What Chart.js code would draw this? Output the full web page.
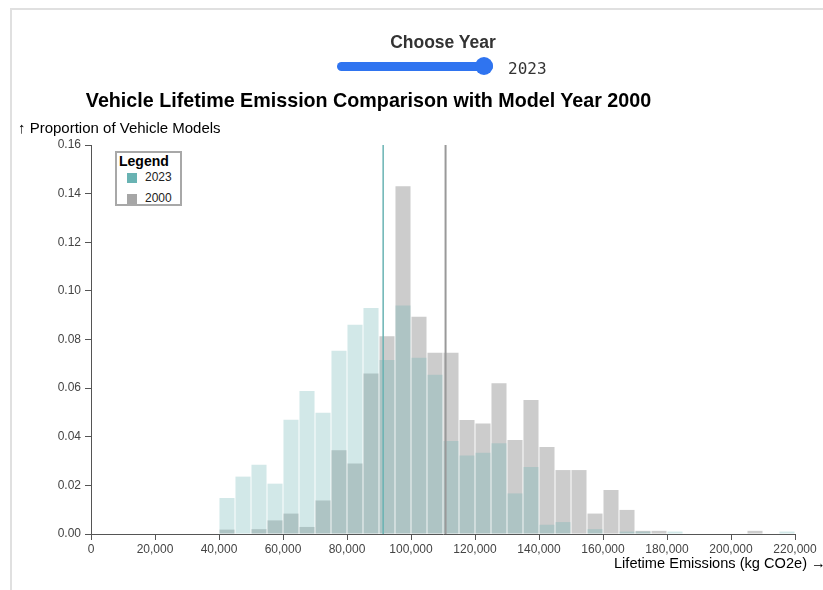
<!DOCTYPE html>
<html>
<head>
<meta charset="utf-8">
<script src="https://cdn.jsdelivr.net/npm/chart.js@4"></script>
<style>
  html, body { margin: 0; padding: 0; background: #fff; }
  body { width: 823px; height: 590px; position: relative; overflow: hidden; font-family: "Liberation Sans", Arial, sans-serif; }
  #frame { position: absolute; left: 10px; top: 8px; width: 840px; height: 600px; border-left: 2px solid #e0e0e0; border-top: 2px solid #e0e0e0; }
  #chooseLbl { position: absolute; left: 343px; width: 200px; top: 32px; text-align: center; font-weight: bold; font-size: 17.5px; color: #333; }
  #yearSlider { -webkit-appearance: none; appearance: none; position: absolute; left: 337px; top: 58px; width: 156px; height: 16px; background: transparent; margin: 0; }
  #yearSlider::-webkit-slider-runnable-track { height: 9px; border-radius: 5px; background: #2f74f0; }
  #yearSlider::-webkit-slider-thumb { -webkit-appearance: none; width: 18px; height: 18px; border-radius: 50%; background: #2f74f0; margin-top: -4.5px; border: none; }
  #yearVal { position: absolute; left: 508px; top: 59px; font-family: "DejaVu Sans Mono", monospace; font-size: 16px; color: #333; }
  #mainTitle { position: absolute; left: 0; width: 737px; top: 89px; text-align: center; font-weight: bold; font-size: 19.7px; color: #000; }
  #yTitle { position: absolute; left: 18px; top: 119px; font-size: 15px; color: #000; }
  #xTitle { position: absolute; left: 614px; top: 555px; font-size: 14.6px; color: #000; white-space: nowrap; }
  #legendBox { position: absolute; left: 115px; top: 151px; width: 63px; height: 51px; border: 2px solid #a8a8a8; background: #fff; }
  #legendBox .ttl { position: absolute; left: 2px; top: 0px; font-weight: bold; font-size: 14px; }
  #legendBox .sw { position: absolute; left: 10px; width: 10px; height: 10px; }
  #legendBox .lb { position: absolute; left: 28px; font-size: 12px; color: #222; }
  #wrap { position: absolute; left: 0; top: 0; width: 823px; height: 590px; }
</style>
</head>
<body>
<div id="frame"></div>
<div id="wrap"><canvas id="chart"></canvas></div>
<div id="chooseLbl">Choose Year</div>
<input id="yearSlider" type="range" min="2000" max="2023" value="2023">
<div id="yearVal">2023</div>
<div id="mainTitle">Vehicle Lifetime Emission Comparison with Model Year 2000</div>
<div id="yTitle">↑ Proportion of Vehicle Models</div>
<div id="xTitle">Lifetime Emissions (kg CO2e) →</div>
<div id="legendBox">
  <div class="ttl">Legend</div>
  <div class="sw" style="top:20px;background:#69b3b3"></div><div class="lb" style="top:17px">2023</div>
  <div class="sw" style="top:41px;background:#a6a6a6"></div><div class="lb" style="top:38px">2000</div>
</div>
<script>
// histogram bins, 5000 kg wide, start values
var binStarts = [0,5000,10000,15000,20000,25000,30000,35000,40000,45000,50000,55000,60000,65000,70000,75000,80000,85000,90000,95000,
  100000,105000,110000,115000,120000,125000,130000,135000,140000,145000,150000,155000,160000,165000,170000,175000,180000,185000,190000,195000,
  200000,205000,210000,215000];
var binWidth = 5000;

var share2023 = [0,0,0,0,0,0,0,0,0.0148,0.0236,0.0285,0.0207,0.047,0.0588,0.0499,0.0754,0.0861,0.093,0.0716,0.094,
  0.0725,0.0655,0.0383,0.0323,0.0334,0.0373,0.0167,0.0276,0.0038,0.0049,0,0.002,0,0.001,0.001,0,0.001,0,0,0,
  0,0,0,0.001];
var share2000 = [0,0,0,0,0,0,0,0,0.0018,0,0.002,0.0056,0.0084,0.0029,0.0138,0.0344,0.029,0.066,0.0813,0.143,
  0.0894,0.0745,0.0745,0.0469,0.0455,0.062,0.0387,0.0551,0.0358,0.0263,0.0263,0.0084,0.0181,0.0099,0.0013,0.0013,0,0,0,0,
  0,0.0013,0,0];

var mean2023 = 91300;
var mean2000 = 110800;

var xTicks = [0,20000,40000,60000,80000,100000,120000,140000,160000,180000,200000,220000];
var yTicks = [0,0.02,0.04,0.06,0.08,0.10,0.12,0.14,0.16];

function toPoints(arr) {
  return arr.map(function(v, i) { return { x: binStarts[i] + binWidth / 2, y: v }; });
}

var axisColor = '#555';
var tickFont = { family: '"Liberation Sans", Arial, sans-serif', size: 12 };

var ctx = document.getElementById('chart').getContext('2d');
var mchart = new Chart(ctx, {
  type: 'bar',
  data: {
    datasets: [
      {
        type: 'line', label: 'mean 2023',
        data: [{ x: mean2023, y: 0 }, { x: mean2023, y: 0.16 }],
        borderColor: '#69b3b3', borderWidth: 1.5, pointRadius: 0, order: 0
      },
      {
        type: 'line', label: 'mean 2000',
        data: [{ x: mean2000, y: 0 }, { x: mean2000, y: 0.16 }],
        borderColor: '#999999', borderWidth: 2, pointRadius: 0, order: 0
      },
      {
        label: '2023', data: toPoints(share2023),
        backgroundColor: 'rgba(105,179,179,0.3)', borderWidth: 0,
        grouped: false, barPercentage: 0.94, categoryPercentage: 1, order: 1
      },
      {
        label: '2000', data: toPoints(share2000),
        backgroundColor: 'rgba(153,153,153,0.5)', borderWidth: 0,
        grouped: false, barPercentage: 0.94, categoryPercentage: 1, order: 2
      }
    ]
  },
  options: {
    responsive: true,
    maintainAspectRatio: false,
    animation: false,
    layout: { padding: { top: 145, right: 28, left: 0, bottom: 0 } },
    scales: {
      x: {
        type: 'linear', min: 0, max: 220000, offset: false,
        afterFit: function(s) { s.height = 56; },
        afterBuildTicks: function(s) { s.ticks = xTicks.map(function(v) { return { value: v }; }); },
        grid: { display: true, offset: false, drawOnChartArea: false, drawTicks: true, tickLength: 6, color: axisColor },
        border: { display: true, color: axisColor, width: 1 },
        ticks: {
          color: '#444', font: tickFont, padding: 2, maxRotation: 0, autoSkip: false,
          callback: function(v) { return v.toLocaleString('en-US'); }
        }
      },
      y: {
        min: 0, max: 0.16,
        afterFit: function(s) { s.width = 91; },
        afterBuildTicks: function(s) { s.ticks = yTicks.map(function(v) { return { value: v }; }); },
        grid: { display: true, drawOnChartArea: false, drawTicks: true, tickLength: 6, color: axisColor },
        border: { display: true, color: axisColor, width: 1 },
        ticks: {
          color: '#444', font: tickFont, padding: 4,
          callback: function(v) { return v.toFixed(2); }
        }
      }
    },
    plugins: {
      legend: { display: false },
      tooltip: { enabled: false }
    }
  }
});
</script>
</body>
</html>
